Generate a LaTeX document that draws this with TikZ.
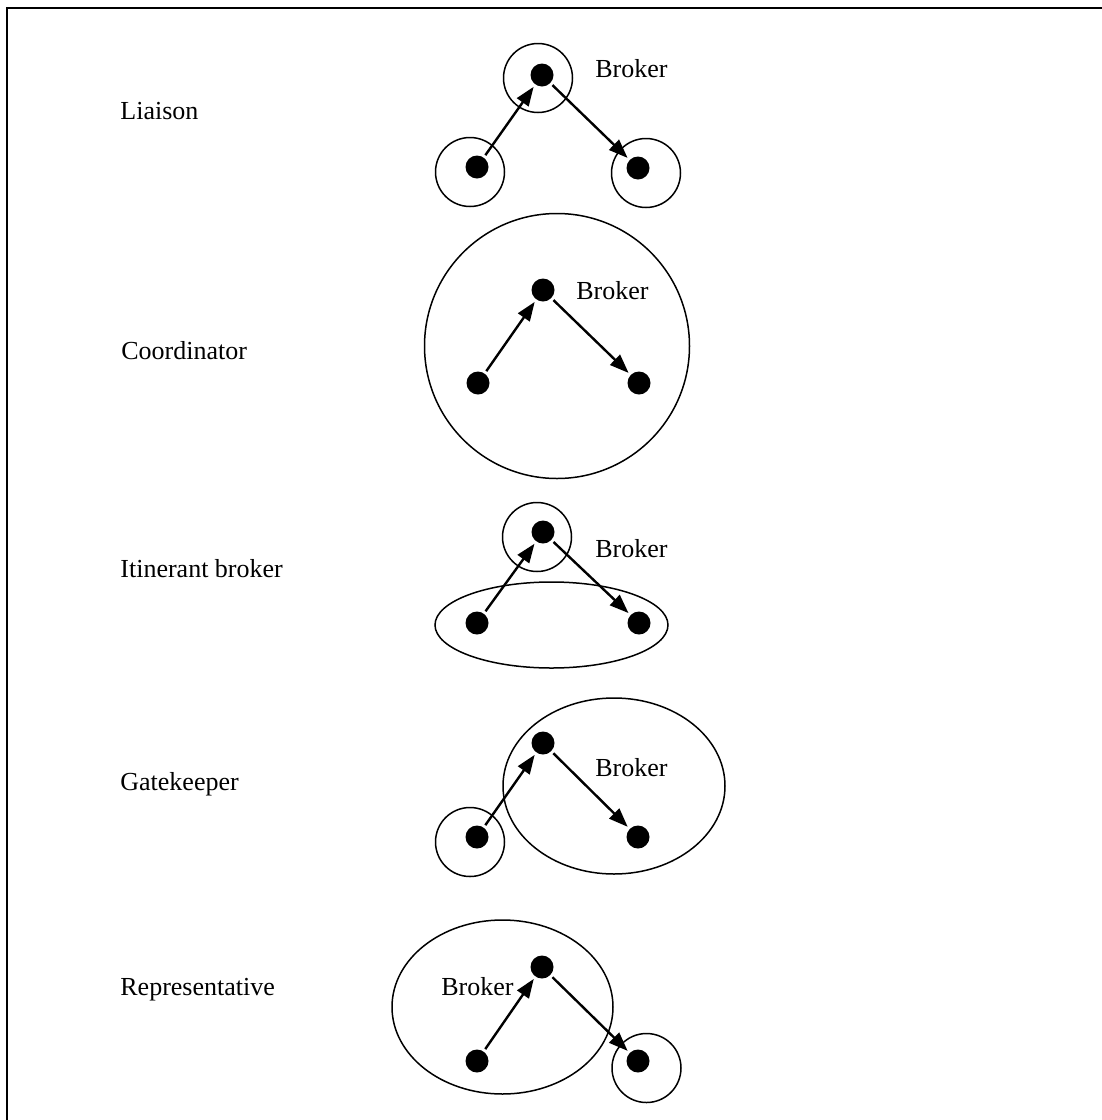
\documentclass[tikz,border=0pt]{standalone}
\usepackage{fontspec}
\setmainfont{Liberation Serif}
\usetikzlibrary{arrows.meta,shapes.geometric}
\tikzstyle{member} = [circle, fill, inner sep=0pt, minimum size=11.5pt, outer sep=1.5pt]
\tikzstyle{ring} = [circle, draw, line width=0.75pt, inner sep=0pt, minimum size=34.5pt]
\tikzstyle{group} = [ellipse, draw, line width=0.75pt, inner sep=0pt]
\tikzstyle{tie} = [-{Triangle[length=9.5pt,width=7pt]}, line width=1.2pt]
\tikzstyle{role} = [anchor=base west, inner sep=0pt, font=\fontsize{13}{15}\selectfont]

\begin{document}
\begin{tikzpicture}[x=0.5pt,y=-0.5pt]
        \useasboundingbox (0,0) rectangle (1102,1120);
        \coordinate (frame sw) at (7,1125);
        \coordinate (frame nw) at (7,8);
        \coordinate (frame ne) at (1107,8);
        \draw[line width=1.3pt] (frame sw) -- (frame nw) -- (frame ne);

        % liaison
        \node[ring] (lring top) at (538,78) {};
        \node[ring] (lring left) at (470,172) {};
        \node[ring] (lring right) at (646,173) {};
        \node[member] (lbroker) at (542,75) {};
        \node[member] (lfrom) at (477,167) {};
        \node[member] (lto) at (638,168) {};
        \draw[tie] (lfrom) -- (lbroker);
        \draw[tie] (lbroker) -- (lto);
        \node[role] (ltext) at (120,119) {Liaison};
        \node[role] (lname) at (595,77) {Broker};

        % coordinator
        \node[ring, minimum size=132.5pt] (cring) at (557,346) {};
        \node[member] (cbroker) at (543,290) {};
        \node[member] (cfrom) at (478,383) {};
        \node[member] (cto) at (639,383) {};
        \draw[tie] (cfrom) -- (cbroker);
        \draw[tie] (cbroker) -- (cto);
        \node[role] (ctext) at (121,359) {Coordinator};
        \node[role] (cname) at (576,299) {Broker};

        % itinerant broker
        \node[ring] (iring) at (537,537) {};
        \node[group, minimum width=116.5pt, minimum height=43pt] (igroup) at (551.5,625) {};
        \node[member] (ibroker) at (543,532) {};
        \node[member] (ifrom) at (477,623) {};
        \node[member] (ito) at (639,623) {};
        \draw[tie] (ifrom) -- (ibroker);
        \draw[tie] (ibroker) -- (ito);
        \node[role] (itext) at (120,577) {Itinerant broker};
        \node[role] (iname) at (595,557) {Broker};

        % gatekeeper
        \node[ring] (gring) at (470,842) {};
        \node[group, minimum width=111pt, minimum height=88pt] (ggroup) at (614,786) {};
        \node[member] (gbroker) at (543,743) {};
        \node[member] (gfrom) at (477,837) {};
        \node[member] (gto) at (638,837) {};
        \draw[tie] (gfrom) -- (gbroker);
        \draw[tie] (gbroker) -- (gto);
        \node[role] (gtext) at (120,790) {Gatekeeper};
        \node[role] (gname) at (595,776) {Broker};

        % representative
        \node[group, minimum width=110.5pt, minimum height=87pt] (rgroup) at (502.5,1007) {};
        \node[ring] (rring) at (646.5,1068) {};
        \node[member] (rbroker) at (542,967) {};
        \node[member] (rfrom) at (477,1061) {};
        \node[member] (rto) at (638,1061) {};
        \draw[tie] (rfrom) -- (rbroker);
        \draw[tie] (rbroker) -- (rto);
        \node[role] (rtext) at (120,995) {Representative};
        \node[role] (rname) at (441,995) {Broker};
\end{tikzpicture}
\end{document}
